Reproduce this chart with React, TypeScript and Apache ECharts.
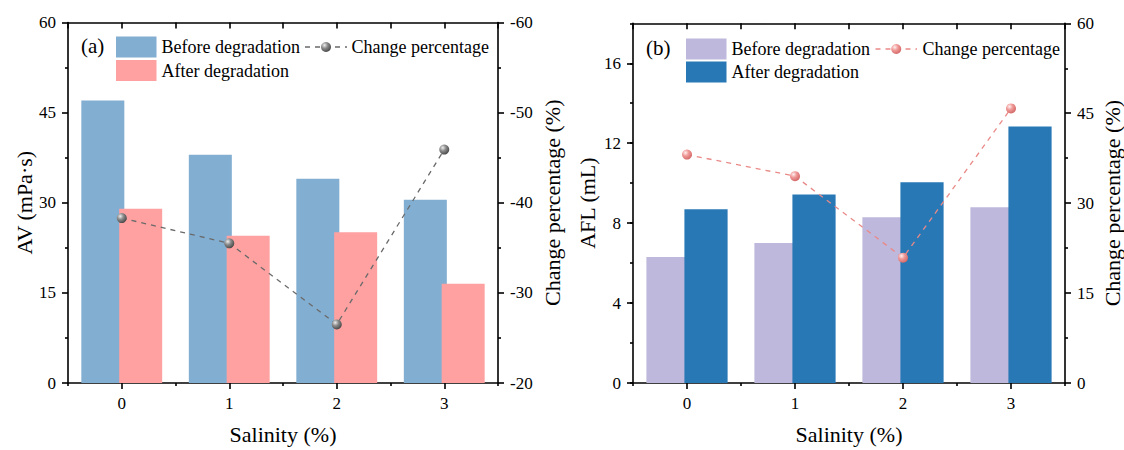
import React, { useEffect, useRef } from 'react';
import * as echarts from 'echarts';

const FONT = 'Liberation Serif';

// ---- data ----
const categories = ['0', '1', '2', '3'];
const avBefore = [47.0, 38.0, 34.0, 30.5];
const avAfter = [29.0, 24.5, 25.1, 16.5];
const avChange = [-38.3, -35.5, -26.5, -45.9];
const aflBefore = [6.3, 7.0, 8.3, 8.8];
const aflAfter = [8.7, 9.43, 10.04, 12.83];
const aflChange = [38.1, 34.5, 20.9, 45.8];

const seriesNames = ['Before degradation', 'After degradation', 'Change percentage'];
const panelTags = ['(a)', '(b)'];
const xName = 'Salinity (%)';
const avName = 'AV (mPa·s)';
const aflName = 'AFL (mL)';
const changeName = 'Change percentage (%)';

const BLACK = '#000';
const AXW = 1.6;

function sphere(light: string, mid: string, dark: string) {
  return new echarts.graphic.RadialGradient(0.35, 0.32, 0.7, [
    { offset: 0, color: light },
    { offset: 0.45, color: mid },
    { offset: 1, color: dark },
  ]);
}

const lineStyleAx = { color: BLACK, width: AXW };
const labelStyle = { color: BLACK, fontSize: 17, fontFamily: FONT };
const nameStyle = { color: BLACK, fontSize: 22, fontFamily: FONT };

function xAxesFor(grid: number) {
  return [
    {
      type: 'category',
      gridIndex: grid,
      data: categories,
      position: 'bottom',
      boundaryGap: true,
      axisLine: { show: true, onZero: false, lineStyle: lineStyleAx },
      axisTick: { show: true, alignWithLabel: true, length: 6, inside: false, lineStyle: lineStyleAx },
      axisLabel: { ...labelStyle, margin: 12 },
      splitLine: { show: false },
      name: xName,
      nameLocation: 'middle',
      nameGap: 40,
      nameTextStyle: nameStyle,
    },
    {
      type: 'value',
      gridIndex: grid,
      position: 'bottom',
      min: -0.5,
      max: 3.5,
      interval: 1,
      axisLine: { show: false, onZero: false },
      axisTick: { show: true, length: 3, inside: false, lineStyle: lineStyleAx },
      axisLabel: { show: false },
      splitLine: { show: false },
    },
    {
      type: 'value',
      gridIndex: grid,
      position: 'top',
      min: -0.5,
      max: 3.5,
      interval: 0.5,
      axisLine: { show: true, onZero: false, lineStyle: lineStyleAx },
      axisTick: { show: true, length: 6, inside: true, lineStyle: lineStyleAx },
      axisLabel: { show: false },
      splitLine: { show: false },
    },
  ];
}

function yAxis(opts: any) {
  return {
    type: 'value',
    axisLine: { show: true, onZero: false, lineStyle: lineStyleAx },
    axisTick: { show: true, length: 6, inside: false, lineStyle: lineStyleAx },
    minorTick: { show: true, splitNumber: 2, length: 3, lineStyle: lineStyleAx },
    axisLabel: { ...labelStyle, margin: 12 },
    splitLine: { show: false },
    minorSplitLine: { show: false },
    nameLocation: 'middle',
    nameRotate: 90,
    nameTextStyle: nameStyle,
    ...opts,
  };
}

function legendGraphics(p: {
  tagX: number; rectX: number; row1: number; row2: number; textX: number; lineX1: number; lineX2: number; text2X: number;
  tag: string; c1: string; c2: string; lc: string; grad: any;
}) {
  const mk = (x: number, y: number, text: string, size = 18) => ({
    type: 'text', x, y,
    style: { text, fontSize: size, fontFamily: FONT, fill: BLACK, verticalAlign: 'middle', align: 'left' },
  });
  return [
    mk(p.tagX, p.row1 - 1, p.tag, 21),
    { type: 'rect', shape: { x: p.rectX, y: p.row1 - 10.5, width: 40.5, height: 21 }, style: { fill: p.c1 } },
    { type: 'rect', shape: { x: p.rectX, y: p.row2 - 10.5, width: 40.5, height: 21 }, style: { fill: p.c2 } },
    mk(p.textX, p.row1, seriesNames[0]),
    mk(p.textX, p.row2, seriesNames[1]),
    {
      type: 'line',
      shape: { x1: p.lineX1, y1: p.row1, x2: p.lineX2, y2: p.row1 },
      style: { stroke: p.lc, lineWidth: 1.3, lineDash: [5, 5] },
    },
    {
      type: 'circle',
      shape: { cx: (p.lineX1 + p.lineX2) / 2, cy: p.row1, r: 5 },
      style: { fill: p.grad },
      z: 10,
    },
    mk(p.text2X, p.row1, seriesNames[2]),
  ];
}

export default function App() {
  const ref = useRef<HTMLDivElement>(null);
  useEffect(() => {
    if (!ref.current) return;
    const chart = echarts.init(ref.current, undefined, { renderer: 'svg', width: 1124, height: 450 });
    const grayGrad = () => sphere('#eeeeee', '#8c8c8c', '#4a4a4a');
    const pinkGrad = () => sphere('#fff0f0', '#ef9a98', '#d46a69');

    const option: any = {
      animation: false,
      backgroundColor: '#fff',
      textStyle: { fontFamily: FONT },
      grid: [
        { left: 68, top: 22.5, width: 430, height: 362.5, containLabel: false },
        { left: 633, top: 23.3, width: 434, height: 360, containLabel: false },
      ],
      xAxis: [...xAxesFor(0), ...xAxesFor(1)],
      yAxis: [
        yAxis({ gridIndex: 0, position: 'left', min: 0, max: 60, interval: 15, name: avName, nameGap: 33 }),
        yAxis({ gridIndex: 0, position: 'right', min: -60, max: -20, interval: 10, inverse: true, name: changeName, nameGap: 43 }),
        yAxis({
          gridIndex: 1, position: 'left', min: 0, max: 18, interval: 4, name: aflName, nameGap: 35,
          minorTick: { show: false },
          axisLabel: { ...labelStyle, margin: 12, showMaxLabel: false },
        }),
        {
          type: 'value', gridIndex: 1, position: 'left', min: 0, max: 18, interval: 2,
          axisLine: { show: false, onZero: false },
          axisTick: { show: true, length: 3, inside: false, lineStyle: lineStyleAx },
          axisLabel: { show: false },
          splitLine: { show: false },
        },
        yAxis({ gridIndex: 1, position: 'right', min: 0, max: 60, interval: 15, name: changeName, nameGap: 36 }),
      ],
      series: [
        {
          name: seriesNames[0], type: 'bar', xAxisIndex: 0, yAxisIndex: 0, data: avBefore,
          barWidth: '40%', barGap: '-12%', itemStyle: { color: '#82AED2' },
        },
        {
          name: seriesNames[1], type: 'bar', xAxisIndex: 0, yAxisIndex: 0, data: avAfter,
          barWidth: '40%', barGap: '-12%', itemStyle: { color: '#FFA1A1' },
        },
        {
          name: seriesNames[2], type: 'line', xAxisIndex: 0, yAxisIndex: 1, data: avChange, z: 5,
          symbol: 'circle', symbolSize: 10,
          lineStyle: { color: '#6a6a6a', width: 1.3, type: [5, 5] },
          itemStyle: { color: grayGrad() },
        },
        {
          name: seriesNames[0], type: 'bar', xAxisIndex: 3, yAxisIndex: 2, data: aflBefore,
          barWidth: '40%', barGap: '-12%', itemStyle: { color: '#BEB8DC' },
        },
        {
          name: seriesNames[1], type: 'bar', xAxisIndex: 3, yAxisIndex: 2, data: aflAfter,
          barWidth: '40%', barGap: '-12%', itemStyle: { color: '#2878B5' },
        },
        {
          name: seriesNames[2], type: 'line', xAxisIndex: 3, yAxisIndex: 4, data: aflChange, z: 5,
          symbol: 'circle', symbolSize: 10,
          lineStyle: { color: '#E98A88', width: 1.3, type: [5, 5] },
          itemStyle: { color: pinkGrad() },
        },
      ],
      graphic: [
        ...legendGraphics({
          tagX: 81, rectX: 116, row1: 47, row2: 70.5, textX: 161.5, lineX1: 305, lineX2: 347, text2X: 351.5,
          tag: panelTags[0], c1: '#82AED2', c2: '#FFA1A1', lc: '#6a6a6a', grad: grayGrad(),
        }),
        ...legendGraphics({
          tagX: 646, rectX: 686, row1: 49, row2: 72, textX: 731.5, lineX1: 875.5, lineX2: 917, text2X: 922.5,
          tag: panelTags[1], c1: '#BEB8DC', c2: '#2878B5', lc: '#E98A88', grad: pinkGrad(),
        }),
      ],
    };
    chart.setOption(option);
    return () => chart.dispose();
  }, []);
  return (
    <div
      ref={ref}
      style={{ position: 'absolute', left: 0, top: 0, width: 1124, height: 450, background: '#fff' }}
    />
  );
}
